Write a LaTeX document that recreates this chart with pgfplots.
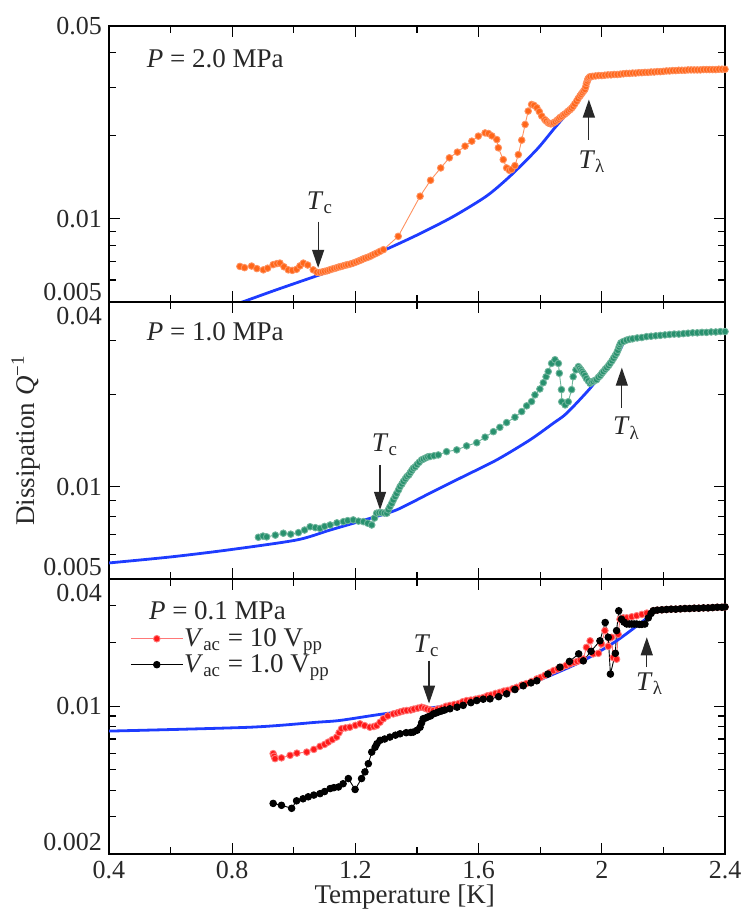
\documentclass[border=0pt]{standalone}
\usepackage{fontspec}
\setmainfont{Liberation Serif}
\usepackage{pgfplots}
\pgfplotsset{compat=1.18}
\usetikzlibrary{arrows.meta}

\definecolor{qorange}{RGB}{255,102,25}
\definecolor{qorangeline}{RGB}{255,145,95}
\definecolor{qgreen}{RGB}{40,145,110}
\definecolor{qgreenline}{RGB}{110,180,155}
\definecolor{qblue}{RGB}{30,60,255}
\definecolor{qred}{RGB}{255,25,25}
\definecolor{qredline}{RGB}{255,120,120}
\definecolor{txt}{RGB}{40,40,40}

\tikzset{
 qarr/.style={txt, line width=0.6pt, -{Triangle[length=9pt,width=6pt]}},
 qlab/.style={text=txt, font=\fontsize{13.5}{16}\selectfont},
}
\pgfplotsset{
 qdat/.style={line width=0.45pt, mark=*, mark size=1.65pt, mark options={draw=none, fill=#1}},
 qbl/.style={qblue, line width=1.4pt, no marks, smooth, tension=0.45},
}

\begin{document}
\begin{tikzpicture}

% ---------------- top panel: P = 2.0 MPa ----------------
\begin{axis}[scale only axis, width=308pt, height=137.8pt, at={(0pt,276.1pt)}, anchor=south west,
  xmin=0.4, xmax=2.4, ymode=log, ymin=0.005, ymax=0.05,
  xtick={0.4,0.8,1.2,1.6,2,2.4}, minor xtick={0.6,1.0,1.4,1.8,2.2},
  major tick length=5.5pt, minor tick length=3.5pt,
  tick style={black, line width=0.6pt}, axis line style={line width=0.8pt}, tick align=inside,
  ticklabel style={font=\fontsize{13}{15}\selectfont, text=txt},
  xticklabels={},
  ytick={0.005,0.01,0.05},
  yticklabels={\raisebox{5pt}[\height][\depth]{0.005},0.01,0.05},
  minor ytick={0.006,0.007,0.008,0.009,0.02,0.03,0.04}]
\addplot[color=qorangeline, qdat=qorange] table {
0.825 0.00672
0.840 0.00665
0.863 0.00674
0.880 0.00660
0.901 0.00653
0.915 0.00662
0.933 0.00682
0.945 0.00688
0.955 0.00691
0.968 0.00670
0.982 0.00653
0.995 0.00650
1.009 0.00656
1.020 0.00675
1.031 0.00691
1.045 0.00680
1.063 0.00653
1.075 0.00640
1.085 0.00639
1.093 0.00642
1.100 0.00645
1.108 0.00648
1.115 0.00652
1.122 0.00656
1.130 0.00660
1.138 0.00664
1.145 0.00668
1.152 0.00671
1.160 0.00675
1.168 0.00679
1.175 0.00682
1.184 0.00686
1.193 0.00691
1.202 0.00697
1.210 0.00703
1.218 0.00709
1.225 0.00715
1.232 0.00720
1.240 0.00725
1.248 0.00731
1.255 0.00738
1.262 0.00745
1.270 0.00752
1.280 0.00762
1.291 0.00773
1.339 0.00864
1.410 0.01208
1.444 0.0138
1.477 0.0153
1.505 0.01665
1.531 0.01746
1.556 0.01836
1.578 0.01914
1.599 0.01996
1.621 0.0205
1.632 0.0204
1.643 0.0200
1.659 0.0194
1.664 0.0181
1.680 0.0164
1.691 0.0153
1.700 0.0150
1.707 0.0151
1.718 0.0156
1.729 0.0171
1.740 0.0193
1.751 0.0220
1.761 0.0246
1.772 0.0260
1.780 0.0258
1.789 0.0253
1.797 0.0245
1.805 0.0236
1.815 0.0229
1.820 0.0226
1.826 0.0223
1.830 0.0222
1.835 0.0221
1.839 0.0222
1.843 0.0223
1.849 0.0225
1.855 0.0228
1.860 0.0230
1.864 0.0233
1.870 0.0235
1.875 0.0238
1.880 0.0240
1.886 0.0243
1.891 0.0246
1.897 0.0249
1.902 0.0252
1.907 0.0256
1.912 0.0261
1.918 0.0267
1.923 0.0273
1.929 0.0279
1.933 0.0283
1.937 0.0287
1.941 0.0291
1.945 0.0295
1.948 0.0302
1.950 0.0310
1.953 0.0316
1.955 0.0322
1.958 0.0325
1.962 0.0328
1.970 0.0329
1.980 0.0330
1.990 0.0331
2.000 0.0331
2.010 0.0332
2.020 0.0333
2.030 0.0333
2.040 0.0334
2.050 0.0334
2.060 0.0335
2.070 0.0336
2.080 0.0337
2.090 0.0337
2.100 0.0338
2.110 0.0338
2.120 0.0339
2.130 0.0339
2.140 0.0340
2.150 0.0340
2.160 0.0341
2.170 0.0341
2.180 0.0342
2.190 0.0342
2.200 0.0343
2.210 0.0344
2.220 0.0344
2.230 0.0345
2.240 0.0345
2.250 0.0346
2.260 0.0346
2.270 0.0346
2.280 0.0347
2.290 0.0347
2.300 0.0347
2.310 0.0347
2.320 0.0347
2.330 0.0348
2.340 0.0348
2.350 0.0348
2.360 0.0348
2.370 0.0348
2.380 0.0349
2.390 0.0349
2.400 0.0349
};
\addplot[qbl] table {
0.800 0.00485
0.835 0.00500
0.944 0.00553
1.085 0.00627
1.193 0.00691
1.302 0.00777
1.410 0.00884
1.518 0.0102
1.626 0.0121
1.702 0.01428
1.789 0.01785
1.843 0.0211
1.897 0.0249
1.940 0.0291
1.962 0.0321
};
\node[qlab, anchor=west] at (axis cs:0.50,0.038) {\textit{P} = 2.0 MPa};
\node[qlab] at (axis cs:1.085,0.01146) {\textit{T}\textsubscript{c}};
\draw[qarr] (axis cs:1.079,0.00977) -- (axis cs:1.079,0.00664);
\node[qlab] at (axis cs:1.968,0.0161) {\textit{T}\textsubscript{λ}};
\draw[qarr] (axis cs:1.958,0.0194) -- (axis cs:1.958,0.0271);
\end{axis}

% ---------------- middle panel: P = 1.0 MPa ----------------
\begin{axis}[scale only axis, width=308pt, height=138.6pt, at={(0pt,137.5pt)}, anchor=south west,
  xmin=0.4, xmax=2.4, ymode=log, ymin=0.005, ymax=0.04,
  xtick={0.4,0.8,1.2,1.6,2,2.4}, minor xtick={0.6,1.0,1.4,1.8,2.2},
  major tick length=5.5pt, minor tick length=3.5pt,
  tick style={black, line width=0.6pt}, axis line style={line width=0.8pt}, tick align=inside,
  ticklabel style={font=\fontsize{13}{15}\selectfont, text=txt},
  xticklabels={},
  ytick={0.005,0.01,0.04},
  yticklabels={\raisebox{6pt}[\height][\depth]{0.005},0.01,\raisebox{-7pt}[\height][\depth]{0.04}},
  minor ytick={0.006,0.007,0.008,0.009,0.02,0.03},
  ylabel={Dissipation \textit{Q}\textsuperscript{−1}},
  ylabel style={at={(axis description cs:-0.135,0.5)}, anchor=center, font=\fontsize{13.5}{16}\selectfont, text=txt}]
\addplot[color=qgreenline, qdat=qgreen] table {
0.885 0.00684
0.900 0.00690
0.912 0.00686
0.940 0.00695
0.966 0.00705
0.990 0.00700
1.015 0.00708
1.035 0.00722
1.053 0.00740
1.070 0.00735
1.085 0.00731
1.100 0.00742
1.118 0.00750
1.140 0.00762
1.161 0.00769
1.175 0.00775
1.193 0.00779
1.210 0.00772
1.226 0.00769
1.240 0.00760
1.253 0.00750
1.262 0.00790
1.269 0.00819
1.277 0.00822
1.285 0.00822
1.294 0.00820
1.302 0.00819
1.307 0.00840
1.312 0.00860
1.318 0.00882
1.323 0.00905
1.329 0.00928
1.334 0.00950
1.340 0.00975
1.345 0.0100
1.351 0.0102
1.356 0.0104
1.362 0.0106
1.367 0.01078
1.373 0.0109
1.378 0.0111
1.383 0.0113
1.388 0.01148
1.394 0.0116
1.400 0.0118
1.407 0.0120
1.415 0.01222
1.421 0.0123
1.428 0.0124
1.435 0.0125
1.442 0.01253
1.455 0.0126
1.469 0.01268
1.496 0.0130
1.529 0.01317
1.561 0.01357
1.594 0.0139
1.621 0.01449
1.648 0.0151
1.669 0.0156
1.691 0.01617
1.718 0.01683
1.740 0.01756
1.756 0.01833
1.772 0.01893
1.783 0.0199
1.799 0.0208
1.810 0.0218
1.819 0.0228
1.826 0.0237
1.837 0.0252
1.848 0.0259
1.859 0.0252
1.862 0.0234
1.869 0.0207
1.870 0.0189
1.881 0.01846
1.891 0.0189
1.902 0.0207
1.907 0.0228
1.916 0.0240
1.924 0.0246
1.928 0.0243
1.932 0.0240
1.936 0.0237
1.940 0.0234
1.945 0.0230
1.950 0.0225
1.956 0.0221
1.962 0.0217
1.967 0.0219
1.972 0.0220
1.978 0.0222
1.983 0.0223
1.989 0.0227
1.995 0.0230
2.000 0.0234
2.005 0.0237
2.011 0.0241
2.016 0.0244
2.022 0.0248
2.027 0.0252
2.033 0.0257
2.038 0.0262
2.043 0.0267
2.048 0.0272
2.052 0.0278
2.056 0.0285
2.059 0.0290
2.062 0.0294
2.070 0.0297
2.080 0.0300
2.090 0.0302
2.100 0.0303
2.115 0.0305
2.130 0.0306
2.145 0.0308
2.160 0.0309
2.175 0.0310
2.190 0.0311
2.205 0.0312
2.220 0.0313
2.235 0.0314
2.250 0.0314
2.265 0.0315
2.280 0.0316
2.295 0.0317
2.310 0.0317
2.325 0.0318
2.340 0.0318
2.355 0.0319
2.370 0.0319
2.385 0.0320
2.400 0.0320
};
\addplot[qbl] table {
0.400 0.00564
0.600 0.00590
0.788 0.00622
1.009 0.00670
1.118 0.00722
1.247 0.00788
1.334 0.00840
1.442 0.00952
1.550 0.01078
1.659 0.01222
1.767 0.0142
1.843 0.0161
1.886 0.01734
1.962 0.0209
2.016 0.0246
2.059 0.0279
2.069 0.0294
};
\node[qlab, anchor=west] at (axis cs:0.50,0.0319) {\textit{P} = 1.0 MPa};
\node[qlab] at (axis cs:1.296,0.01369) {\textit{T}\textsubscript{c}};
\draw[qarr] (axis cs:1.280,0.01177) -- (axis cs:1.280,0.0084);
\node[qlab] at (axis cs:2.08,0.0155) {\textit{T}\textsubscript{λ}};
\draw[qarr] (axis cs:2.065,0.0181) -- (axis cs:2.065,0.0244);
\end{axis}

% ---------------- bottom panel: P = 0.1 MPa ----------------
\begin{axis}[scale only axis, width=308pt, height=137.5pt, at={(0pt,0pt)}, anchor=south west,
  xmin=0.4, xmax=2.4, ymode=log, ymin=0.002, ymax=0.04,
  xtick={0.4,0.8,1.2,1.6,2,2.4}, minor xtick={0.6,1.0,1.4,1.8,2.2},
  major tick length=5.5pt, minor tick length=3.5pt,
  tick style={black, line width=0.6pt}, axis line style={line width=0.8pt}, tick align=inside,
  ticklabel style={font=\fontsize{13}{15}\selectfont, text=txt},
  xticklabels={0.4,0.8,1.2,1.6,2,2.4},
  ytick={0.002,0.01,0.04},
  yticklabels={\raisebox{6pt}[\height][\depth]{0.002},0.01,\raisebox{-7pt}[\height][\depth]{0.04}},
  minor ytick={0.003,0.004,0.005,0.006,0.007,0.008,0.009,0.02,0.03},
  xlabel={Temperature [K]},
  xlabel style={at={(axis description cs:0.48,-0.158)}, anchor=center, font=\fontsize{13.5}{16}\selectfont, text=txt},
  legend style={draw=none, fill=none, at={(0.034,0.826)}, anchor=north west,
    inner sep=0pt, row sep=1.5pt,
    nodes={inner sep=0.5pt, font=\fontsize{13.5}{16}\selectfont, text=txt}},
  legend cell align=left,
  legend image code/.code={\draw[mark repeat=2, mark phase=2] plot coordinates {(0pt,0pt) (13pt,0pt) (26pt,0pt)};}]
\addplot[color=qredline, qdat=qred] table {
0.933 0.00597
0.936 0.00580
0.939 0.00565
0.960 0.00570
0.988 0.00586
1.010 0.00600
1.042 0.00607
1.065 0.00625
1.085 0.00646
1.100 0.00660
1.112 0.00677
1.125 0.00695
1.139 0.00715
1.147 0.00750
1.155 0.00783
1.168 0.00790
1.182 0.00796
1.200 0.00812
1.215 0.00826
1.230 0.00810
1.247 0.00796
1.260 0.00802
1.269 0.0081
1.280 0.0084
1.291 0.00873
1.305 0.0090
1.323 0.0092
1.335 0.0093
1.345 0.0094
1.356 0.0095
1.367 0.00955
1.380 0.0096
1.390 0.0097
1.403 0.0098
1.415 0.0099
1.425 0.0098
1.433 0.0097
1.443 0.0096
1.453 0.00955
1.467 0.0097
1.480 0.0098
1.494 0.0100
1.507 0.0101
1.521 0.0102
1.535 0.0103
1.548 0.0105
1.561 0.01064
1.575 0.0107
1.590 0.0108
1.602 0.0109
1.615 0.0110
1.628 0.0112
1.640 0.0113
1.655 0.0115
1.669 0.01164
1.682 0.0118
1.695 0.0119
1.710 0.0121
1.724 0.0123
1.740 0.0126
1.755 0.0128
1.772 0.0131
1.789 0.01347
1.802 0.0137
1.815 0.0140
1.830 0.0144
1.843 0.01474
1.857 0.0150
1.870 0.0153
1.884 0.0156
1.897 0.01586
1.910 0.0161
1.920 0.0163
1.930 0.0165
1.940 0.01674
1.950 0.0190
1.962 0.0204
1.972 0.0177
1.989 0.0178
1.999 0.0197
2.010 0.0228
2.021 0.0192
2.032 0.0212
2.037 0.0170
2.048 0.0167
2.053 0.0219
2.059 0.0258
2.070 0.0262
2.081 0.0262
2.097 0.0265
2.113 0.0268
2.130 0.0272
2.146 0.0276
2.167 0.0283
2.180 0.0285
2.195 0.0286
2.210 0.0287
2.225 0.0288
2.240 0.0288
2.255 0.0289
2.270 0.0290
2.285 0.0290
2.300 0.0291
2.315 0.0291
2.330 0.0292
2.345 0.0292
2.360 0.0293
2.375 0.0294
2.390 0.0294
2.400 0.0295
};
\addlegendentry{\textit{V}\textsubscript{ac} = 10 V\textsubscript{pp}}
\addplot[color=black, qdat=black] table {
0.933 0.00347
0.960 0.00340
0.993 0.00329
1.009 0.00357
1.030 0.00365
1.047 0.00373
1.065 0.00380
1.085 0.00386
1.100 0.00395
1.118 0.00408
1.130 0.00412
1.145 0.00415
1.160 0.00430
1.177 0.00455
1.199 0.00404
1.220 0.00455
1.231 0.00489
1.242 0.00535
1.253 0.00607
1.264 0.00640
1.270 0.00665
1.280 0.00690
1.295 0.00700
1.312 0.00715
1.330 0.00730
1.345 0.00741
1.365 0.00750
1.380 0.00752
1.388 0.00755
1.400 0.00770
1.410 0.00796
1.415 0.00835
1.420 0.00873
1.428 0.0088
1.435 0.0089
1.444 0.0090
1.453 0.0092
1.462 0.0093
1.470 0.0094
1.480 0.0095
1.490 0.0096
1.507 0.00973
1.530 0.0099
1.550 0.0101
1.575 0.0104
1.594 0.01064
1.615 0.0108
1.637 0.01084
1.665 0.0111
1.691 0.01145
1.718 0.0120
1.745 0.0125
1.770 0.0129
1.789 0.0132
1.825 0.0142
1.864 0.0153
1.895 0.0163
1.925 0.0177
1.940 0.0164
1.965 0.0182
1.994 0.0204
2.011 0.0249
2.021 0.0212
2.028 0.0142
2.044 0.0178
2.048 0.0228
2.055 0.0283
2.064 0.0258
2.072 0.0250
2.081 0.0245
2.089 0.0245
2.097 0.0245
2.105 0.0245
2.113 0.0245
2.122 0.0244
2.130 0.0244
2.140 0.0245
2.151 0.0262
2.160 0.0275
2.167 0.0283
2.180 0.0285
2.195 0.0286
2.210 0.0287
2.225 0.0288
2.240 0.0288
2.255 0.0289
2.270 0.0290
2.285 0.0290
2.300 0.0291
2.315 0.0291
2.330 0.0292
2.345 0.0292
2.360 0.0293
2.375 0.0294
2.390 0.0294
2.400 0.0295
};
\addlegendentry{\textit{V}\textsubscript{ac} = 1.0 V\textsubscript{pp}}
\addplot[qbl, forget plot] table {
0.400 0.00763
0.858 0.00796
1.074 0.0084
1.150 0.00857
1.291 0.0092
1.507 0.0101
1.615 0.01084
1.724 0.0121
1.832 0.01397
1.940 0.01644
2.048 0.0204
2.156 0.0268
2.167 0.0283
};
\node[qlab, anchor=west] at (axis cs:0.507,0.0282) {\textit{P} = 0.1 MPa};
\node[qlab] at (axis cs:1.431,0.01934) {\textit{T}\textsubscript{c}};
\draw[qarr] (axis cs:1.439,0.01644) -- (axis cs:1.439,0.0103);
\node[qlab] at (axis cs:2.155,0.0128) {\textit{T}\textsubscript{λ}};
\draw[qarr] (axis cs:2.146,0.0153) -- (axis cs:2.146,0.0212);
\end{axis}

\pgfresetboundingbox
\path (-54.5pt,-32.5pt) rectangle (319pt,427pt);
\end{tikzpicture}
\end{document}
